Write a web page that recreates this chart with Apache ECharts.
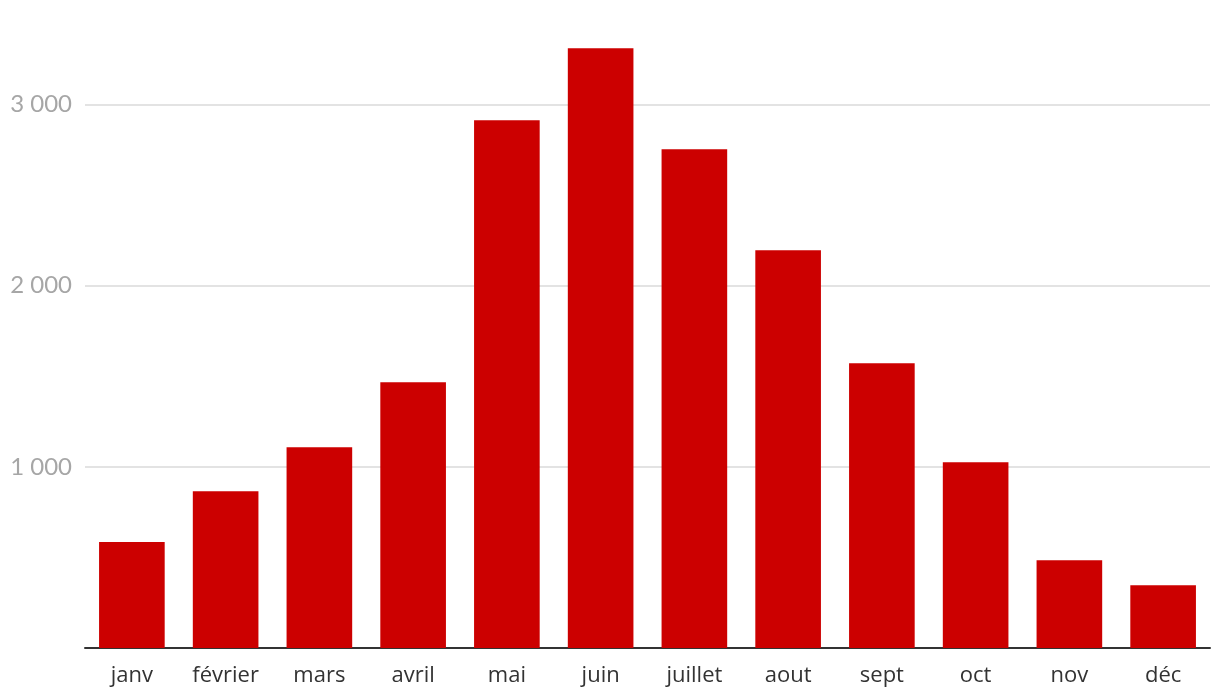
<!DOCTYPE html>
<html>
<head>
<meta charset="utf-8">
<script src="https://cdn.jsdelivr.net/npm/echarts@6/dist/echarts.min.js"></script>
<style>
html,body{margin:0;padding:0;background:#fff;}
#chart{width:1220px;height:700px;}
</style>
</head>
<body>
<div id="chart"></div>
<script>
const categories = ['janv', 'février', 'mars', 'avril', 'mai', 'juin', 'juillet', 'aout', 'sept', 'oct', 'nov', 'déc'];
const values = [585, 865, 1108, 1467, 2913, 3311, 2753, 2196, 1572, 1025, 484, 346];

const chart = echarts.init(document.getElementById('chart'), null, {renderer: 'canvas'});
chart.setOption({
  animation: false,
  backgroundColor: '#ffffff',
  grid: {left: 85, right: 10, top: 14, bottom: 52, containLabel: false},
  xAxis: {
    type: 'category',
    data: categories,
    axisLine: {show: true, lineStyle: {color: '#333333', width: 2}},
    axisTick: {show: false},
    axisLabel: {color: '#333333', fontSize: 22, fontFamily: 'Open Sans', margin: 17}
  },
  yAxis: {
    type: 'value',
    min: 0,
    max: 3500,
    interval: 1000,
    axisLine: {show: false},
    axisTick: {show: false},
    splitLine: {show: true, showMinLine: false, showMaxLine: false, lineStyle: {color: '#e3e3e3', width: 2}},
    axisLabel: {
      color: '#a6a6a6', fontSize: 24, fontFamily: 'Lato', margin: 13,
      showMinLabel: false, showMaxLabel: false,
      formatter: function (v) { return (v === 0 || v % 1000 !== 0) ? '' : String(v).replace(/\B(?=(\d{3})+(?!\d))/g, ' '); }
    }
  },
  series: [{
    type: 'bar',
    data: values,
    barWidth: '70%',
    itemStyle: {color: '#cc0000'}
  }]
});
</script>
</body>
</html>
